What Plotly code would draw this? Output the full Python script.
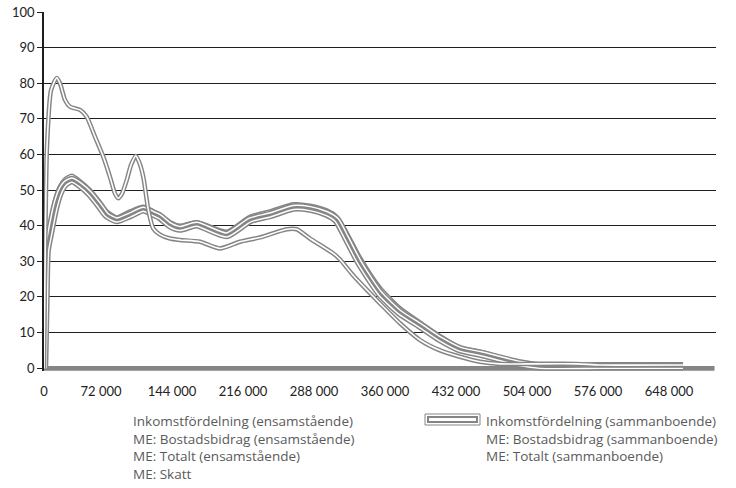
import numpy as np
import plotly.graph_objects as go

# x in thousand kronor, y in percent
tot_ens_x = [14.2, 15.7, 17.2, 21.3, 27.1, 30.4, 35.5, 40.6, 50.7, 57.5, 65.9, 74.3, 81.1, 86.2,
             89.5, 93.3, 98.1, 102.4, 107.2, 110.5, 114.9, 120.0, 125.0, 131.8, 142.0, 152.1,
             172.4, 192.7, 213.0, 233.2, 260.3, 270.5, 283.9, 307.6, 314.4, 327.9, 334.6,
             354.9, 375.2, 395.5, 415.8, 436.1, 456.3, 476.6, 504.0, 554.7, 578.0, 662.2]
tot_ens_y = [0, 40, 62, 78, 81.5, 80, 75.3, 73.4, 72.5, 70.6, 65, 59.4, 53.7, 49,
             47.7, 49, 52.8, 57, 59.6, 58, 53.7, 44.4, 39.2, 37.5, 36.4, 36,
             35.5, 33.6, 35.5, 36.7, 39, 39, 36.4, 32.2, 30.5, 26, 24,
             18.2, 12.6, 7.9, 5, 3.2, 1.8, 1.2, 1.2, 1.2, 0.9, 0.9]

tot_sam_x = [14.2, 15.7, 16.9, 20.3, 25.4, 30.4, 35.5, 42.3, 50.7, 60.8, 71.0, 77.8, 87.9,
             101.4, 114.9, 125.0, 131.8, 142.0, 152.1, 169.0, 199.4, 223.1, 243.4, 267.0,
             283.9, 300.8, 311.0, 321.1, 334.6, 354.9, 375.2, 395.5, 415.8, 436.1, 456.3,
             476.6, 496.9, 517.2, 578.0, 662.2]
tot_sam_y = [0, 20, 33, 38, 45, 49.5, 51.8, 52.8, 51.5, 49, 45.5, 43, 41.6,
             43, 44.6, 43.4, 42.5, 40.2, 39.2, 40.4, 37.4, 41.6, 43, 45.1,
             44.8, 43.4, 41.6, 36.5, 29.4, 21, 15.6, 12, 8.2, 5.3, 4.1,
             2.7, 1.3, 0.5, 0.5, 0.5]

bb_sam_y = [0, 22, 35, 40, 47, 51, 53, 54, 52.5, 50, 46.5, 44, 42.3,
            44, 45.3, 44, 43, 41, 40, 41, 38.3, 42.5, 44, 46,
            45.6, 44.3, 42.5, 38, 31, 22.5, 16.8, 12.8, 9, 5.7, 4.6,
            3.1, 1.6, 0.8, 0.7, 0.6]

inc_x = [14.2, 72, 144, 216, 288, 360, 432, 504, 576, 648, 694]
inc_ens_y = [0, 0, 0, 0, 0, 0, 0, 0, 0, 0, 0]
inc_sam_y = [0, 0, 0, 0, 0, 0, 0, 0, 0, 0, 0]

x_ticks = [14.2, 72, 144, 216, 288, 360, 432, 504, 576, 648]
x_ticktext = ["0", "72 000", "144 000", "216 000", "288 000", "360 000",
              "432 000", "504 000", "576 000", "648 000"]

legend_left = ["Inkomstfördelning (ensamstående)", "ME: Bostadsbidrag (ensamstående)",
               "ME: Totalt (ensamstående)", "ME: Skatt"]
legend_right = ["Inkomstfördelning (sammanboende)", "ME: Bostadsbidrag (sammanboende)",
                "ME: Totalt (sammanboende)"]

GREY = "#858585"
W, H = 736, 488
L, R, T, B = 44, 20, 12, 117


def px(xp):
  return (xp - L) / (W - L - R)


def py(yp):
  return (H - B - yp) / (H - T - B)


fig = go.Figure()


def k(xs):
  return np.array(xs) * 1000


def add_line(x, y, name, widths, axis="y2"):
  for i, w in enumerate(widths):
    fig.add_trace(go.Scatter(
      x=k(x), y=y, mode="lines", name=name, yaxis=axis,
      line=dict(color=GREY if i % 2 == 0 else "white", width=w, shape="spline", smoothing=0.6),
      showlegend=False,
    ))


# empty trace so the gridline axis gets drawn underneath
fig.add_trace(go.Scatter(x=[None], y=[None], mode="lines", yaxis="y", showlegend=False))

add_line(inc_x, inc_ens_y, "Inkomstfördelning (ensamstående)", [4.5])
add_line(inc_x, inc_sam_y, "Inkomstfördelning (sammanboende)", [4.5])
add_line(tot_sam_x, bb_sam_y, "ME: Bostadsbidrag (sammanboende)", [4.5, 1.6])
add_line(tot_sam_x, tot_sam_y, "ME: Totalt (sammanboende)", [8.5, 5.5, 2.6])
add_line(tot_ens_x, tot_ens_y, "ME: Totalt (ensamstående)", [4.5, 1.6])

font = "Lato, 'Open Sans', sans-serif"
legend_font = "'Open Sans', Lato, sans-serif"

fig.update_layout(
  width=W, height=H,
  margin=dict(l=L, r=R, t=T, b=B, autoexpand=False),
  paper_bgcolor="white", plot_bgcolor="white",
  font=dict(family=font, size=13, color="#222"),
  showlegend=False,
  xaxis=dict(
    range=[14.2e3, 695.7e3], tickvals=k(x_ticks), ticktext=x_ticktext,
    showgrid=False, zeroline=False, showline=False,
    ticks="outside", ticklen=8, tickcolor="rgba(0,0,0,0)",
    tickfont=dict(size=13, color="#222"),
  ),
  yaxis=dict(
    range=[-0.8, 100], tickvals=[10, 20, 30, 40, 50, 60, 70, 80, 90],
    showgrid=True, gridcolor="#1e1e1e", gridwidth=1,
    showticklabels=False, zeroline=False, showline=False,
  ),
  yaxis2=dict(
    range=[-0.8, 100], overlaying="y", side="left", anchor="x",
    tickvals=list(range(0, 101, 10)), showgrid=False, zeroline=False,
    showline=True, linecolor="#1e1e1e", linewidth=1.5,
    ticks="outside", ticklen=5, tickcolor="#1e1e1e",
    tickfont=dict(size=13, color="#222"),
  ),
)

# legend written as two text columns, as in the original
for lines, xp in [(legend_left, 132), (legend_right, 485)]:
  fig.add_annotation(x=px(xp), y=py(410.5), xref="paper", yref="paper",
                     text="<br>".join(lines), align="left",
                     showarrow=False, xanchor="left", yanchor="top", borderpad=0,
                     font=dict(family=legend_font, size=13.5, color="#5a5a5a"))

# legend key for the sammanboende income distribution
fig.add_shape(type="rect", xref="paper", yref="paper", x0=px(425), x1=px(480),
              y0=py(425), y1=py(414), line=dict(color=GREY, width=1), fillcolor="white")
fig.add_shape(type="rect", xref="paper", yref="paper", x0=px(428), x1=px(477),
              y0=py(422), y1=py(417), line=dict(color=GREY, width=2), fillcolor="white")

fig.write_html("out.html", config={"displayModeBar": False},
               post_script="document.body.style.margin='0';")
